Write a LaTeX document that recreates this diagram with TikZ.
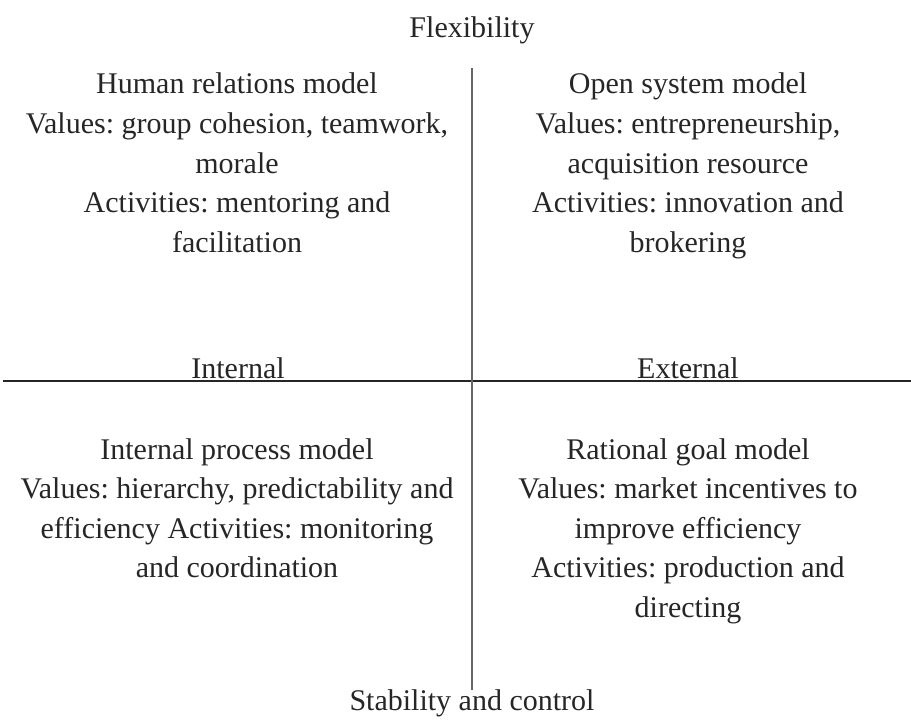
\documentclass[tikz,border=0pt]{standalone}
\usepackage{fontspec}
\setmainfont{Liberation Serif}
\begin{document}
\frenchspacing
\begin{tikzpicture}[x=1pt,y=-1pt,
  lbl/.style={anchor=base,inner sep=0pt,font=\fontsize{30}{40}\selectfont\frenchspacing,text=black!85},
  hline/.style={draw=black!85,line width=1.4pt},
  vline/.style={draw=black!60,line width=1.4pt}]
\useasboundingbox (0,0) rectangle (911,725);
% axis end points
\coordinate (L) at (3,381);
\coordinate (R) at (911,381);
\coordinate (T) at (472,68);
\coordinate (B) at (472,690);
\draw[hline] (L) -- (R);
\draw[vline] (T) -- (B);
% axis labels
\node[lbl] (flex) at (472,38) {Flexibility};
\node[lbl] (stab) at (472,710) {Stability and control};
\node[lbl] (int) at (238,378) {Internal};
\node[lbl] (ext) at (688,378) {External};
% top left
\node[lbl] (hr1) at (237,94) {Human relations model};
\node[lbl] (hr2) at (237,133.5) {Values: group cohesion, teamwork,};
\node[lbl] (hr3) at (237,173) {morale};
\node[lbl] (hr4) at (237,212.5) {Activities: mentoring and};
\node[lbl] (hr5) at (237,252) {facilitation};
% top right
\node[lbl] (os1) at (688,94) {Open system model};
\node[lbl] (os2) at (688,133.5) {Values: entrepreneurship,};
\node[lbl] (os3) at (688,173) {acquisition resource};
\node[lbl] (os4) at (688,212.5) {Activities: innovation and};
\node[lbl] (os5) at (688,252) {brokering};
% bottom left
\node[lbl] (ip1) at (237,459) {Internal process model};
\node[lbl] (ip2) at (237,498.5) {Values: hierarchy, predictability and};
\node[lbl] (ip3) at (237,538) {efficiency Activities: monitoring};
\node[lbl] (ip4) at (237,577.5) {and coordination};
% bottom right
\node[lbl] (rg1) at (688,459) {Rational goal model};
\node[lbl] (rg2) at (688,498.5) {Values: market incentives to};
\node[lbl] (rg3) at (688,538) {improve efficiency};
\node[lbl] (rg4) at (688,577.5) {Activities: production and};
\node[lbl] (rg5) at (688,617) {directing};
\end{tikzpicture}
\end{document}
